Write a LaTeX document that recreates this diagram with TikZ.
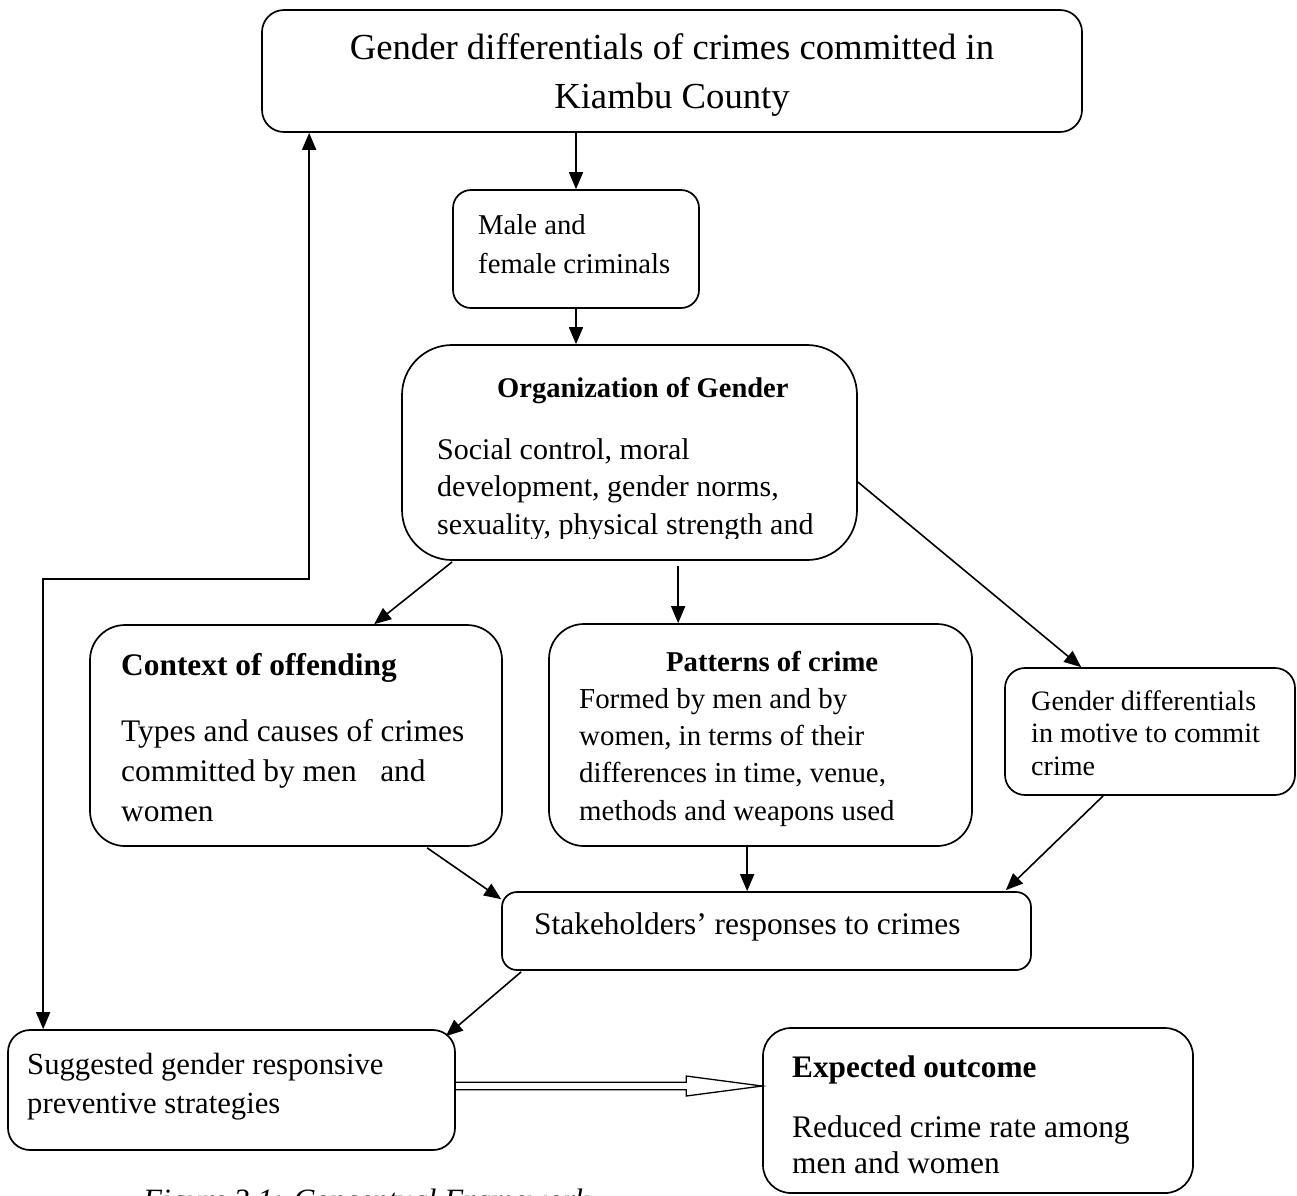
\documentclass[tikz,border=0pt]{standalone}
\usepackage{fontspec}
\setmainfont{Liberation Serif}
\usetikzlibrary{arrows.meta,calc}
\newcommand\myfs[2]{\fontsize{#1}{#2}\selectfont}
\begin{document}
\begin{tikzpicture}[x=1pt,y=-1pt,
  box/.style={draw, line width=1.7pt, rounded corners=#1, inner sep=0pt},
  box/.default=20pt,
  txt/.style={anchor=base west, inner sep=0pt, align=left},
  arr/.style={line width=1.6pt, -{Triangle[length=17pt,width=14pt]}},
  biarr/.style={line width=1.6pt, {Triangle[length=17pt,width=14pt]}-{Triangle[length=17pt,width=14pt]}},
]
\useasboundingbox (0,0) rectangle (1297,1195);
\clip (0,0) rectangle (1297,1195);

% boxes
\node[box=22pt, minimum width=820pt, minimum height=122pt] (title) at (672,71) {};
\node[box=18pt, minimum width=246pt, minimum height=118pt] (male) at (576,249) {};
\node[box=50pt, minimum width=455pt, minimum height=215pt] (org) at (629.5,452.5) {};
\node[box=35pt, minimum width=412pt, minimum height=221pt] (ctx) at (296,735.5) {};
\node[box=35pt, minimum width=423pt, minimum height=222pt] (pat) at (760.5,735) {};
\node[box=20pt, minimum width=290pt, minimum height=127pt] (mot) at (1150,731.5) {};
\node[box=15pt, minimum width=529pt, minimum height=78pt] (stake) at (766.5,931) {};
\node[box=22pt, minimum width=447pt, minimum height=120pt] (sug) at (231.5,1090) {};
\node[box=28pt, minimum width=430pt, minimum height=165pt] (exp) at (978,1110.5) {};

% texts (multi-line nodes are anchored at the baseline of their last line)
\node[anchor=base, inner sep=0pt, align=center, font=\myfs{36.7}{49}] (titletxt) at (672,108)
  {Gender differentials of crimes committed in\\Kiambu County};
\node[txt, font=\myfs{28.7}{39}] (maletxt) at (478,273) {Male and\\female criminals};
\node[txt, font=\myfs{28.5}{37.5}\bfseries] (orghead) at (497,397) {Organization of Gender};
\begin{scope}
  \clip (402,345) rectangle (857,538);
  \node[txt, font=\myfs{30}{37.5}] (orgtxt) at (437,534)
    {Social control, moral\\development, gender norms,\\sexuality, physical strength and};
\end{scope}
\node[txt, font=\myfs{31.4}{40}\bfseries] (ctxhead) at (121,675) {Context of offending};
\node[txt, font=\myfs{31.4}{40}] (ctxtxt) at (121,821)
  {Types and causes of crimes\\committed by men\ \ \ and\\women};
\node[txt, font=\myfs{28.7}{37.3}\bfseries] (pathead) at (666,671) {Patterns of crime};
\node[txt, font=\myfs{28.9}{37.3}] (pattxt) at (579,820)
  {Formed by men and by\\women, in terms of their\\differences in time, venue,\\methods and weapons used};
\node[txt, font=\myfs{28.1}{32.5}] (mottxt) at (1031,775)
  {Gender differentials\\in motive to commit\\crime};
\node[txt, font=\myfs{31.4}{40}] (staketxt) at (534,934) {Stakeholders’ responses to crimes};
\node[txt, font=\myfs{30.7}{39}] (sugtxt) at (27,1113)
  {Suggested gender responsive\\preventive strategies};
\node[txt, font=\myfs{31.3}{40}\bfseries] (exphead) at (792,1077) {Expected outcome};
\node[txt, font=\myfs{31.4}{36}] (exptxt) at (792,1173) {Reduced crime rate among\\men and women};
\node[txt, font=\myfs{31}{38}\itshape] (caption) at (143,1210) {Figure 3.1: Conceptual Framework};

% connectors
\draw[arr] (title.south -| male.north) -- (male.north);
\draw[arr] (male.south) -- (male.south |- org.north);
\draw[arr] ($(org.south west)+(51,1)$) -- ($(ctx.north west)+(285,0)$);
\draw[arr] ($(org.south west)+(277,5)$) -- ($(pat.north west)+(130,0)$);
\draw[arr] ($(org.east)+(0,29.5)$) -- ($(mot.north west)+(77,0)$);
\draw[arr] ($(ctx.south west)+(338,1)$) -- ($(stake.north west)+(0,8)$);
\draw[arr] ($(pat.south west)+(199,0)$) -- ($(stake.north west)+(246,0)$);
\draw[arr] ($(mot.south west)+(99,0)$) -- ($(stake.north east)+(-26,-1)$);
\draw[arr] ($(stake.south west)+(20,1)$) -- ($(sug.north east)+(-10,7)$);
\coordinate (loopcorner) at ($(sug.north west)+(36,-450)$);
\draw[biarr] ($(title.south west)+(48,0)$) |- (loopcorner) -- ($(sug.north west)+(36,0)$);

% hollow double arrow
\coordinate (da) at ($(sug.east)+(0,-4)$);
\coordinate (db) at (da -| exp.west);
\draw[line width=1.3pt, line join=miter]
  ($(da)+(0,-3.7)$) -- ($(db)+(-76,-3.7)$) -- ($(db)+(-76,-10)$) -- (db)
  -- ($(db)+(-76,10)$) -- ($(db)+(-76,3.7)$) -- ($(da)+(0,3.7)$);
\end{tikzpicture}
\end{document}
